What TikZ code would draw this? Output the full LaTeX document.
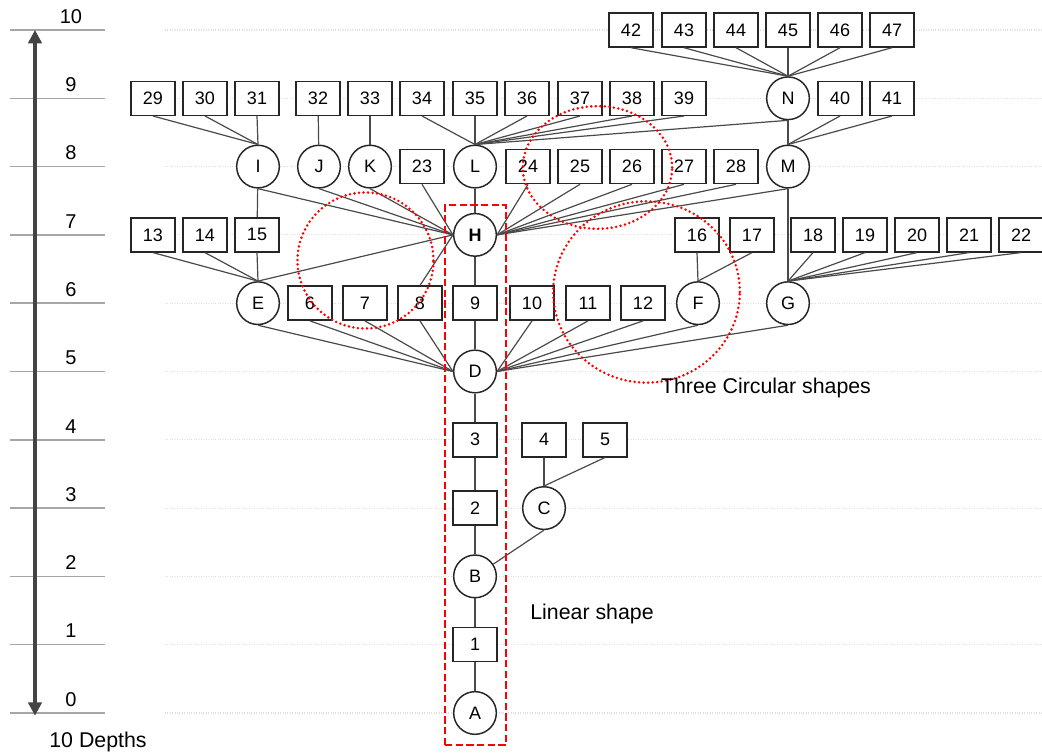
\documentclass[tikz,border=0pt]{standalone}
\usepackage{fontspec}
\setmainfont{Liberation Sans}
\usetikzlibrary{arrows.meta}

\definecolor{edgegray}{HTML}{4A4A4A}
\definecolor{axisgray}{HTML}{444444}
\definecolor{rulegray}{HTML}{A6A6A6}

\tikzset{
  leaf/.style={draw=black!85, line width=1.1pt, rectangle, fill=white,
    minimum width=33pt, minimum height=25.5pt, inner sep=0pt,
    font=\fontsize{13.5}{16}\selectfont},
  hub/.style={draw=black!85, line width=1.1pt, circle, fill=white,
    minimum size=32pt, inner sep=0pt, font=\fontsize{13.5}{16}\selectfont},
  link/.style={edgegray, line width=0.9pt},
  ring/.style={red, line width=2.1pt, line cap=round, dash pattern=on 0pt off 3.4pt},
  depthlbl/.style={font=\fontsize{15}{18}\selectfont},
  caption/.style={font=\fontsize{16}{19}\selectfont},
}

\begin{document}
\begin{tikzpicture}[x=0.75pt, y=51.225pt]
  \useasboundingbox (0,-0.6296) rectangle (1042,10.439);

  % Depth scale
  \foreach \lv in {0,...,10} {
    \draw[rulegray, line width=1.1pt] (10,\lv) -- (105,\lv);
    \draw[gray!25, densely dotted, line width=0.8pt] (165,\lv) -- (1042,\lv);
    \node[depthlbl] (d\lv) at (71,\lv+0.2) {\lv};
  }
  \coordinate (bottom) at (35,-0.04);
  \coordinate (top) at (35,10);
  \draw[axisgray, line width=3pt, {Triangle[length=10pt,width=10pt]}-{Triangle[length=10pt,width=10pt]}] (bottom) -- (top);
  \node[caption] (depths) at (98,-0.425) {10 Depths};

  % Nodes, depth by depth
  \node[hub] (A) at (475,0) {A};
  \node[leaf] (n1) at (475,1) {1};
  \node[hub] (B) at (475,2) {B};
  \node[leaf] (n2) at (475,3) {2};
  \node[hub] (C) at (544,3) {C};
  \foreach \k/\x in {3/475,4/544,5/605} \node[leaf] (n\k) at (\x,4) {\k};
  \node[hub] (D) at (475,5) {D};
  \node[hub] (E) at (258,6) {E};
  \foreach \k/\x in {6/310,7/365,8/420,9/475,10/532,11/588,12/643} \node[leaf] (n\k) at (\x,6) {\k};
  \node[hub] (F) at (698,6) {F};
  \node[hub] (G) at (788,6) {G};
  \foreach \k/\x in {13/153,14/205,15/257,16/697,17/752,18/813,19/865,20/917,21/969,22/1021} \node[leaf] (n\k) at (\x,7) {\k};
  \node[hub, font=\fontsize{13.5}{16}\selectfont\bfseries] (H) at (475,7) {H};
  \foreach \k/\x in {I/258,J/319,K/370,L/475,M/788} \node[hub] (\k) at (\x,8) {\k};
  \foreach \k/\x in {23/422,24/528,25/580,26/632,27/684,28/736} \node[leaf] (n\k) at (\x,8) {\k};
  \foreach \k/\x in {29/153,30/205,31/257,32/318,33/370,34/422,35/475,36/527,37/580,38/632,39/684,40/840,41/892} \node[leaf] (n\k) at (\x,9) {\k};
  \node[hub] (N) at (788,9) {N};
  \foreach \k/\x in {42/631,43/684,44/736,45/788,46/840,47/892} \node[leaf] (n\k) at (\x,10) {\k};

  % Edges
  \draw[link] (A) -- (n1) (n1) -- (B) (B) -- (n2) (n2) -- (n3) (n3) -- (D);
  \draw[link] (B) -- (C.south);
  \foreach \k in {4,5} \draw[link] (C.north) -- (n\k.south);
  \foreach \k in {E,n6,n7,n8} \draw[link] (D.west) -- (\k.south);
  \foreach \k in {n10,n11,n12,F,G} \draw[link] (D.east) -- (\k.south);
  \draw[link] (D) -- (n9) (n9) -- (H) (H) -- (L);
  \foreach \k in {13,14,15} \draw[link] (E.north) -- (n\k.south);
  \draw[link] (E.north) -- (H.west);
  \draw[link] (n8.north) -- (H.west);
  \foreach \k in {I,J,K,n23} \draw[link] (H.west) -- (\k.south);
  \foreach \k in {n24,n25,n26,n27,n28,M} \draw[link] (H.east) -- (\k.south);
  \foreach \k in {16,17} \draw[link] (F.north) -- (n\k.south);
  \foreach \k in {18,...,22} \draw[link] (G.north) -- (n\k.south);
  \draw[link] (G) -- (M);
  \draw[link] (I) -- (n15);
  \foreach \k in {29,30,31} \draw[link] (I.north) -- (n\k.south);
  \draw[link] (J) -- (n32);
  \draw[link] (K) -- (n33);
  \foreach \k in {34,...,39} \draw[link] (L.north) -- (n\k.south);
  \draw[link] (L.north) -- (N.south);
  \draw[link] (M) -- (N);
  \foreach \k in {40,41} \draw[link] (M.north) -- (n\k.south);
  \foreach \k in {42,...,47} \draw[link] (N.north) -- (n\k.south);

  % Linear shape
  \draw[red, line width=1.5pt, dash pattern=on 5.5pt off 2.5pt] (445,-0.4685) rectangle (506,7.438);
  \node[caption] (linear) at (592,1.45) {Linear shape};

  % Circular shapes
  \draw[ring] (365.5,6.625) circle [radius=51pt];
  \draw[ring] (597.5,7.987) ellipse [x radius=56pt, y radius=46pt];
  \draw[ring] (646.5,6.164) ellipse [x radius=70pt, y radius=68pt];
  \node[caption] (circular) at (766,4.76) {Three Circular shapes};
\end{tikzpicture}
\end{document}
